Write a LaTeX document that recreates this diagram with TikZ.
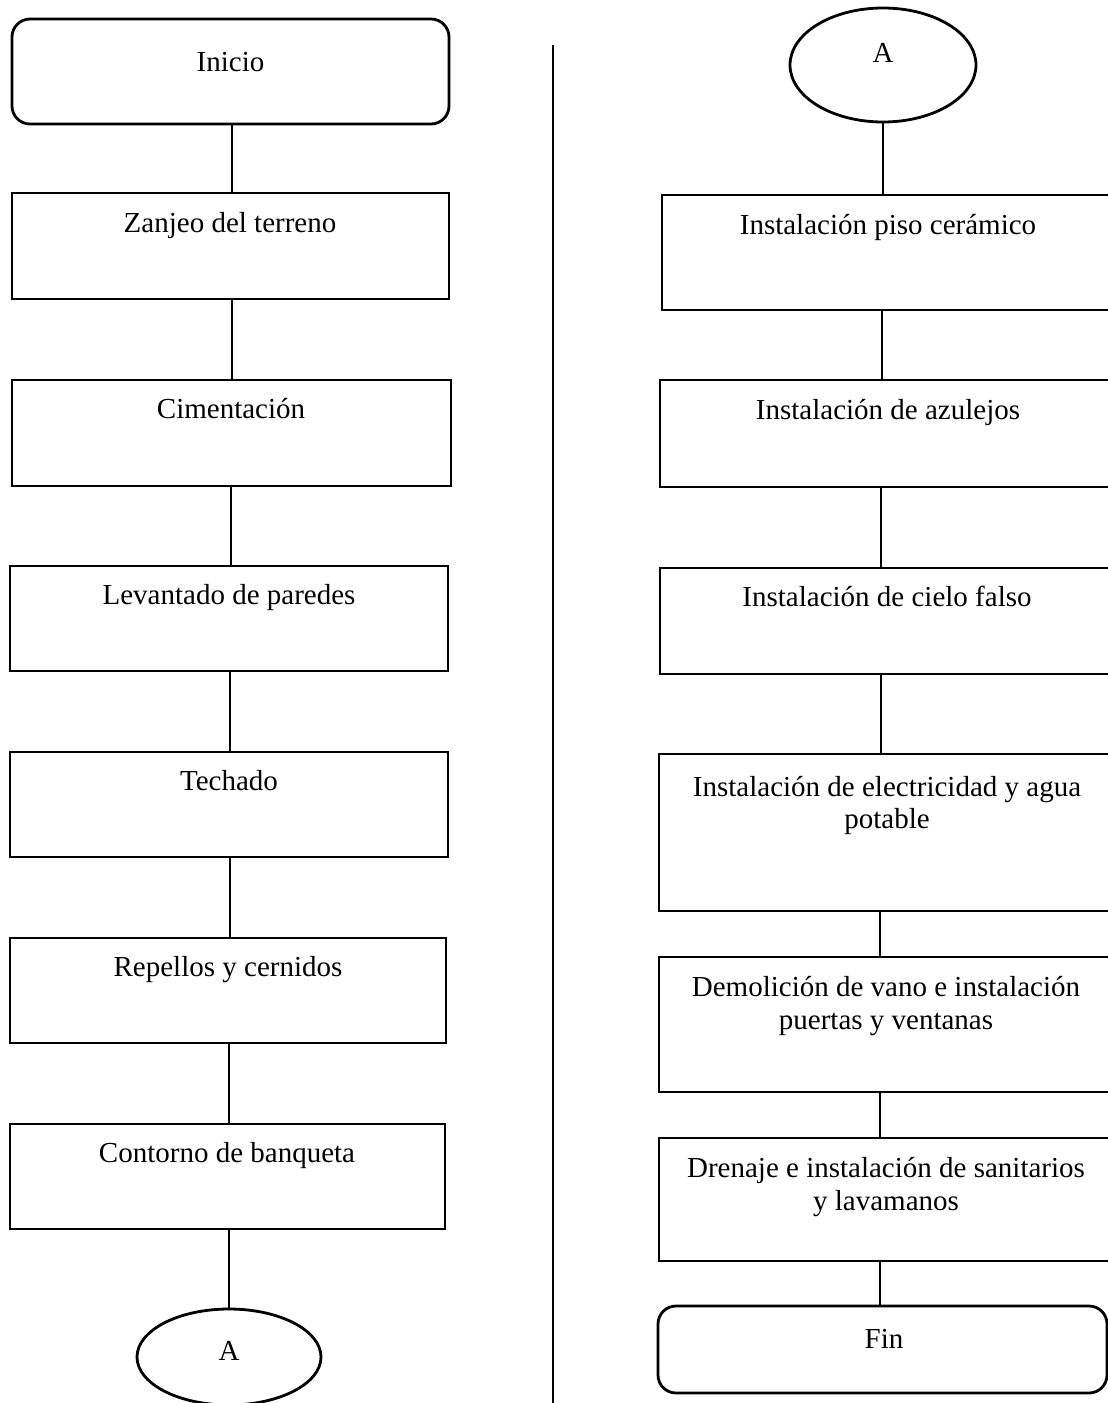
\documentclass[tikz,border=0pt]{standalone}
\usepackage{fontspec}
\setmainfont{Liberation Serif}
\usetikzlibrary{shapes.geometric}
\begin{document}
\begin{tikzpicture}[x=1pt,y=-1pt,
  stepbox/.style={draw, line width=2.8pt, rectangle, inner sep=0pt},
  termbox/.style={draw, line width=2.8pt, rectangle, rounded corners=18pt, inner sep=0pt},
  connector/.style={draw, line width=2.8pt, ellipse, inner sep=0pt},
  lbl/.style={anchor=base, inner sep=0pt, font=\fontsize{29}{33}\selectfont},
  link/.style={line width=1.8pt}]
\useasboundingbox (0,0) rectangle (1108,1403);
\clip (0,0) rectangle (1108,1403);
% divider
\coordinate (dtop) at (553,45);
\coordinate (dbot) at (553,1410);
\draw[line width=2.2pt] (dtop) -- (dbot);
% left column
\node[termbox, minimum width=437pt, minimum height=105pt] (inicio) at (230.5,71.5) {};
\node[lbl] (tinicio) at (230.5,71) {Inicio};
\node[stepbox, minimum width=437pt, minimum height=106pt] (zanjeo) at (230.5,246) {};
\node[lbl] (tzanjeo) at (230,232) {Zanjeo del terreno};
\node[stepbox, minimum width=439pt, minimum height=106pt] (ciment) at (231.5,433) {};
\node[lbl] (tciment) at (231,418) {Cimentación};
\node[stepbox, minimum width=438pt, minimum height=105pt] (levant) at (229,618.5) {};
\node[lbl] (tlevant) at (229,604) {Levantado de paredes};
\node[stepbox, minimum width=438pt, minimum height=105pt] (techado) at (229,804.5) {};
\node[lbl] (ttechado) at (229,790) {Techado};
\node[stepbox, minimum width=436pt, minimum height=105pt] (repellos) at (228,990.5) {};
\node[lbl] (trepellos) at (228,976) {Repellos y cernidos};
\node[stepbox, minimum width=435pt, minimum height=105pt] (contorno) at (227.5,1176.5) {};
\node[lbl] (tcontorno) at (227,1162) {Contorno de banqueta};
\node[connector, minimum width=184pt, minimum height=96pt] (aleft) at (229,1357) {};
\node[lbl] (taleft) at (229,1360) {A};
\draw[link] (inicio.south -| 232,0) -- (zanjeo.north -| 232,0);
\draw[link] (zanjeo.south -| 232,0) -- (ciment.north -| 232,0);
\draw[link] (ciment.south -| 231,0) -- (levant.north -| 231,0);
\draw[link] (levant.south -| 230,0) -- (techado.north -| 230,0);
\draw[link] (techado.south -| 230,0) -- (repellos.north -| 230,0);
\draw[link] (repellos.south -| 229,0) -- (contorno.north -| 229,0);
\draw[link] (contorno.south -| aleft.north) -- (aleft.north);
% right column
\node[connector, minimum width=186pt, minimum height=114pt] (aright) at (883,65) {};
\node[lbl] (taright) at (883,62) {A};
\node[stepbox, minimum width=460pt, minimum height=115pt] (piso) at (892,252.5) {};
\node[lbl] (tpiso) at (888,234) {Instalación piso cerámico};
\node[stepbox, minimum width=462pt, minimum height=107pt] (azulejos) at (891,433.5) {};
\node[lbl] (tazulejos) at (888,419) {Instalación de azulejos};
\node[stepbox, minimum width=462pt, minimum height=106pt] (cielo) at (891,621) {};
\node[lbl] (tcielo) at (887,606) {Instalación de cielo falso};
\node[stepbox, minimum width=463pt, minimum height=157pt] (electr) at (890.5,832.5) {};
\node[lbl] (telectr1) at (887,796) {Instalación de electricidad y agua};
\node[lbl] (telectr2) at (887,828) {potable};
\node[stepbox, minimum width=463pt, minimum height=135pt] (demol) at (890.5,1024.5) {};
\node[lbl] (tdemol1) at (886,996) {Demolición de vano e instalación};
\node[lbl] (tdemol2) at (886,1029) {puertas y ventanas};
\node[stepbox, minimum width=463pt, minimum height=123pt] (drenaje) at (890.5,1199.5) {};
\node[lbl] (tdrenaje1) at (886,1177) {Drenaje e instalación de sanitarios};
\node[lbl] (tdrenaje2) at (886,1210) {y lavamanos};
\node[termbox, minimum width=449pt, minimum height=87pt] (fin) at (882.5,1349.5) {};
\node[lbl] (tfin) at (884,1348) {Fin};
\draw[link] (aright.south) -- (aright.south |- piso.north);
\draw[link] (piso.south -| 882,0) -- (azulejos.north -| 882,0);
\draw[link] (azulejos.south -| 881,0) -- (cielo.north -| 881,0);
\draw[link] (cielo.south -| 881,0) -- (electr.north -| 881,0);
\draw[link] (electr.south -| 880,0) -- (demol.north -| 880,0);
\draw[link] (demol.south -| 880,0) -- (drenaje.north -| 880,0);
\draw[link] (drenaje.south -| 880,0) -- (fin.north -| 880,0);
\end{tikzpicture}
\end{document}
